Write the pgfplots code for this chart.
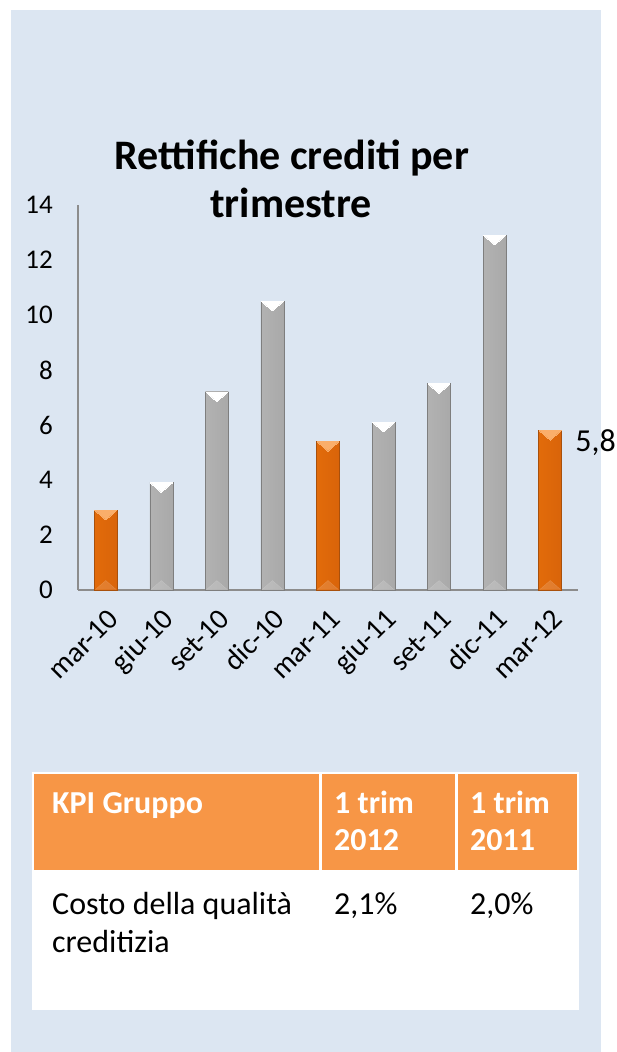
\documentclass[border=0pt]{standalone}
\usepackage{fontspec}
\setmainfont{Carlito}
\usepackage{pgfplots}
\pgfplotsset{compat=1.18}
\definecolor{panel}{HTML}{DCE6F2}
\definecolor{hdr}{HTML}{F79646}
\definecolor{axisgray}{HTML}{8C8C8C}
\definecolor{gL}{HTML}{B2B2B2}
\definecolor{gM}{HTML}{D4D4D4}
\definecolor{gR}{HTML}{A9A9A9}
\definecolor{gE}{HTML}{7E7E7E}
\definecolor{oL}{HTML}{E26B0A}
\definecolor{oM}{HTML}{F5821A}
\definecolor{oR}{HTML}{D9640A}
\definecolor{oE}{HTML}{A8500C}
\definecolor{oTri}{HTML}{FAAE6A}
\newcommand{\yTickFont}{\fontsize{27}{32}\selectfont}
\newcommand{\xTickFont}{\fontsize{29}{34}\selectfont}
\newcommand{\tabfont}{\fontsize{32}{38}\selectfont}
\pgfplotsset{
  gbar/.style={ybar, bar width=23pt, bar shift=0pt, draw=gE, line width=0.5pt,
    left color=gL, middle color=gM, right color=gR},
  obar/.style={ybar, bar width=23pt, bar shift=0pt, draw=oE, line width=0.5pt,
    left color=oL, middle color=oM, right color=oR},
}
\begin{document}
\begin{tikzpicture}
\useasboundingbox (0,0) rectangle (617pt,1052pt);
\fill[white] (0,0) rectangle (617pt,1052pt);
\fill[panel] (11pt,0) rectangle (601pt,1042pt);
% title
\node[anchor=base, inner sep=0pt, font=\fontsize{42}{48}\selectfont\bfseries] at (292pt,882pt) {Rettifiche crediti per};
\node[anchor=base, inner sep=0pt, font=\fontsize{42}{48}\selectfont\bfseries] at (291pt,834pt) {trimestre};
\begin{axis}[
  at={(78pt,462pt)}, anchor=south west,
  scale only axis, width=500pt, height=385pt,
  xmin=-0.5, xmax=8.5, ymin=0, ymax=14,
  ytick={0,2,...,14},
  xtick={0,...,8},
  xticklabels={mar-10,giu-10,set-10,dic-10,mar-11,giu-11,set-11,dic-11,mar-12},
  axis lines*=left,
  axis line style={axisgray, line width=1.2pt, -},
  major tick length=0pt,
  clip=false,
  /pgf/number format/assume math mode=true,
  /pgf/number format/use comma,
  yticklabel style={font=\yTickFont, inner sep=0pt, xshift=-25pt, anchor=east},
  xticklabel style={font=\xTickFont, inner sep=0pt, xshift=14pt, yshift=-31pt, rotate=45, anchor=base east},
]
\addplot[obar] coordinates {(0,2.9)};
\addplot[gbar] coordinates {(1,3.9)};
\addplot[gbar] coordinates {(2,7.2)};
\addplot[gbar] coordinates {(3,10.5)};
\addplot[obar] coordinates {(4,5.4)};
\addplot[gbar] coordinates {(5,6.1)};
\addplot[gbar] coordinates {(6,7.5)};
\addplot[gbar] coordinates {(7,12.9)};
\addplot[obar] coordinates {(8,5.8)};
% bevel highlights
\addplot[only marks, color=white, mark=triangle*, mark size=12.5pt,
  mark options={yshift=-3.3pt, rotate=180, yscale=0.5, fill=white, draw=white, line width=0pt}]
  coordinates {(1,3.9) (2,7.2) (3,10.5) (5,6.1) (6,7.5) (7,12.9)};
\addplot[only marks, color=oTri, mark=triangle*, mark size=12.5pt,
  mark options={yshift=-3.3pt, rotate=180, yscale=0.5, fill=oTri, draw=oTri, line width=0pt}]
  coordinates {(0,2.9) (4,5.4) (8,5.8)};
\addplot[only marks, color=white, mark=triangle*, mark size=12pt,
  mark options={yshift=3.5pt, yscale=0.5, fill=white, draw=none, opacity=0.15}]
  coordinates {(0,0) (1,0) (2,0) (3,0) (4,0) (5,0) (6,0) (7,0) (8,0)};
\addplot[only marks, mark=none, nodes near coords,
  every node near coord/.append style={anchor=west, inner sep=0pt, xshift=25pt, yshift=-12pt, font=\tabfont, text=black}]
  coordinates {(8,5.8)};
\end{axis}
% table
\fill[white] (32pt,42pt) rectangle (579pt,280pt);
\fill[hdr] (34pt,182pt) rectangle (319pt,278pt);
\fill[hdr] (322pt,182pt) rectangle (455pt,278pt);
\fill[hdr] (458pt,182pt) rectangle (577pt,278pt);
\begin{scope}[every node/.style={anchor=base west, inner sep=0pt}]
\node[font=\tabfont\bfseries, text=white] at (52pt,238.5pt) {KPI Gruppo};
\node[font=\tabfont\bfseries, text=white] at (334pt,238.5pt) {1 trim};
\node[font=\tabfont\bfseries, text=white] at (334pt,201pt) {2012};
\node[font=\tabfont\bfseries, text=white] at (470pt,238.5pt) {1 trim};
\node[font=\tabfont\bfseries, text=white] at (470pt,201pt) {2011};
\node[font=\tabfont] at (52pt,137pt) {Costo della qualità};
\node[font=\tabfont] at (52pt,99pt) {creditizia};
\node[font=\tabfont] at (334pt,137pt) {2,1\%};
\node[font=\tabfont] at (470pt,137pt) {2,0\%};
\end{scope}
\end{tikzpicture}
\end{document}
